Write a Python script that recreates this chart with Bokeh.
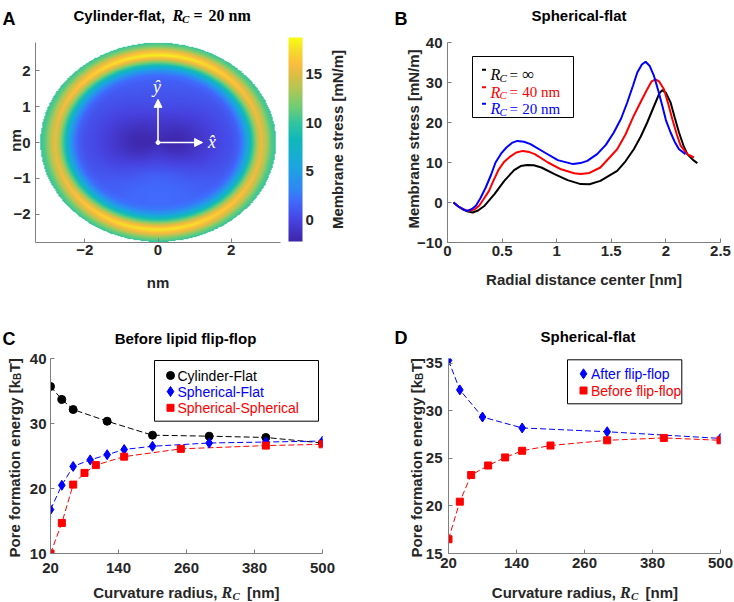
import numpy as np
from bokeh.plotting import figure
from bokeh.layouts import column, row
from bokeh.models import (Label, BoxAnnotation, ColorBar, LinearColorMapper, FixedTicker,
                          Arrow, NormalHead, NumeralTickFormatter, Range1d)
from bokeh.embed import file_html
from bokeh.resources import INLINE

# ------------------------------------------------------------------ data
# Panel A: membrane stress (mN/m) read along the pore, vs normalised radius
rho_knots = [0.00, 0.10, 0.20, 0.35, 0.50, 0.62, 0.68, 0.72, 0.76, 0.80, 0.84, 0.875, 0.92, 0.96, 1.00]
stress_up = [-1.8, -1.4, -0.8, 0.3, 0.9, 1.4, 2.2, 4.0, 7.5, 11.5, 15.5, 18.3, 15.5, 12.0, 10.0]
stress_down = [-1.8, -1.0, 0.0, 1.5, 2.0, 2.0, 2.7, 4.5, 8.0, 11.5, 15.5, 18.0, 15.3, 12.0, 10.0]
stress_side = [-1.8, -2.0, -1.9, -1.0, 0.0, 0.6, 1.4, 3.0, 6.0, 10.0, 13.5, 15.5, 13.5, 11.0, 10.0]
pore_half_widths = [3.22, 2.77]          # nm (x, y)
stress_limits = [-2.24, 18.8]
cbar_ticks = [0, 5, 10, 15]
a_xticks = [-2, 0, 2]
a_yticks = [-2, -1, 0, 1, 2]
a_xlim = [-3.35, 3.35]
a_ylim = [-2.78, 2.78]

# Panel B: membrane stress vs radial distance
r_inf = [0.055, 0.10, 0.14, 0.18, 0.23, 0.28, 0.34, 0.43, 0.52, 0.61, 0.67, 0.73, 0.79, 0.86, 0.98,
         1.10, 1.22, 1.30, 1.40, 1.554, 1.63, 1.706, 1.77, 1.829, 1.905, 1.94, 1.967, 2.0, 2.043,
         2.08, 2.12, 2.16, 2.196, 2.25, 2.288]
s_inf = [0.0, -1.0, -1.7, -2.2, -2.5, -2.0, -0.8, 2.1, 5.4, 8.1, 9.1, 9.4, 9.3, 8.75, 7.1,
         5.6, 4.6, 4.55, 5.4, 7.9, 10.3, 13.3, 16.5, 20.0, 25.0, 27.3, 28.1, 27.4, 25.0,
         21.3, 17.5, 14.3, 12.1, 10.6, 9.85]
r_40 = [0.055, 0.10, 0.13, 0.17, 0.20, 0.25, 0.29, 0.33, 0.38, 0.42, 0.47, 0.52, 0.57, 0.63, 0.69,
        0.75, 0.80, 0.92, 1.04, 1.16, 1.22, 1.30, 1.40, 1.554, 1.63, 1.706, 1.77, 1.829, 1.87,
        1.905, 1.94, 1.982, 2.02, 2.059, 2.10, 2.135, 2.196, 2.257]
s_40 = [0.0, -1.0, -1.5, -1.9, -2.1, -1.7, -0.8, 0.8, 2.9, 5.4, 8.3, 10.2, 11.4, 12.5, 12.9,
        12.6, 12.1, 10.0, 8.3, 7.3, 7.1, 7.4, 8.75, 13.3, 17.0, 21.7, 25.2, 28.3, 30.3,
        30.8, 30.2, 28.3, 24.8, 20.8, 17.0, 14.2, 12.1, 11.25]
r_20 = [0.055, 0.10, 0.15, 0.18, 0.22, 0.26, 0.30, 0.35, 0.40, 0.44, 0.49, 0.54, 0.59, 0.64, 0.70,
        0.76, 0.89, 1.01, 1.15, 1.217, 1.28, 1.37, 1.45, 1.523, 1.59, 1.646, 1.70, 1.738, 1.78,
        1.814, 1.85, 1.89, 1.93, 1.967, 2.00, 2.043, 2.08, 2.12, 2.18]
s_20 = [0.0, -1.0, -1.8, -2.1, -1.7, -0.8, 1.0, 3.75, 7.0, 10.0, 12.2, 13.75, 14.9, 15.4, 15.2,
        14.6, 12.5, 10.6, 9.6, 9.85, 10.4, 12.1, 14.4, 17.5, 21.0, 25.0, 29.3, 32.5, 34.5,
        35.2, 34.2, 31.7, 28.0, 24.2, 20.6, 17.5, 15.2, 13.3, 12.1]
b_xticks = [0, 0.5, 1, 1.5, 2, 2.5]
b_yticks = [-10, 0, 10, 20, 30, 40]

# Panel C: pore formation energy before flip-flop
rc_cyl = [20, 40, 60, 120, 200, 300, 400, 500]
e_cyl = [35.7, 33.7, 32.15, 30.35, 28.2, 28.05, 27.85, 27.0]
rc_sf = [20, 40, 60, 90, 120, 150, 200, 300, 400, 500]
e_sf = [16.75, 20.5, 23.4, 24.4, 25.2, 26.0, 26.5, 27.0, 27.15, 27.3]
rc_ss = [20, 40, 60, 80, 100, 150, 250, 400, 500]
e_ss = [10.0, 14.7, 20.6, 22.4, 23.6, 24.9, 26.1, 26.6, 26.8]

# Panel D: spherical-flat before / after flip-flop
rc_after = [20, 40, 80, 150, 300, 500]
e_after = [35.3, 32.2, 29.35, 28.2, 27.8, 27.1]
rc_before = [20, 40, 60, 90, 120, 150, 200, 300, 400, 500]
e_before = [16.5, 20.45, 23.25, 24.25, 25.1, 25.8, 26.35, 26.9, 27.15, 26.9]
rc_ticks = [20, 140, 260, 380, 500]
c_yticks = [10, 20, 30, 40]
d_yticks = [15, 20, 25, 30, 35]

# ------------------------------------------------------------------ style
SANS = "Liberation Sans"
SERIF = "Liberation Serif"
TICK_C = "#262626"
AXIS_C = "#7f7f7f"
BLUE = "#0000ff"
RED = "#ff0000"
W, H = 734, 602

parula_anchor_t = [0.0, 0.10, 0.20, 0.25, 0.37, 0.50, 0.58, 0.66, 0.75, 0.82, 0.875, 0.94, 1.0]
parula_anchor_c = ["#3E26A8", "#4742E0", "#406BFD", "#3185F5", "#1CA6E0", "#10B8BB", "#31C59E",
                   "#70CC75", "#B2C754", "#DEBD44", "#FCBD3D", "#F5DC29", "#F9FB14"]


def build_palette(n=256):
    rgb = np.array([[int(c[i:i + 2], 16) for i in (1, 3, 5)] for c in parula_anchor_c], float)
    out = []
    for v in np.linspace(0, 1, n):
        r, g, b = (np.interp(v, parula_anchor_t, rgb[:, k]) for k in range(3))
        out.append("#%02x%02x%02x" % (int(round(r)), int(round(g)), int(round(b))))
    return out


def make_panel(fig_box, frame_box, xr, yr):
    fx0, fy0, fx1, fy1 = fig_box
    L, T, R, B = frame_box
    p = figure(width=fx1 - fx0, height=fy1 - fy0,
               x_range=Range1d(*xr), y_range=Range1d(*yr),
               output_backend="svg", toolbar_location=None,
               min_border_left=L - fx0, min_border_right=fx1 - R,
               min_border_top=T - fy0, min_border_bottom=fy1 - B)
    p.outline_line_color = None
    p.xgrid.visible = False
    p.ygrid.visible = False
    p.background_fill_color = "white"
    p.border_fill_color = "white"
    return p


def style_axes(p, xticks, yticks, xstand, ystand):
    for ax in (p.xaxis[0], p.yaxis[0]):
        ax.axis_line_color = AXIS_C
        ax.axis_line_width = 1
        ax.major_tick_line_color = AXIS_C
        ax.minor_tick_line_color = None
        ax.major_tick_in = 4
        ax.major_tick_out = 0
        ax.major_label_text_font = SANS
        ax.major_label_text_font_size = "15px"
        ax.major_label_text_font_style = "bold"
        ax.major_label_text_color = TICK_C
    p.xaxis[0].ticker = FixedTicker(ticks=xticks)
    p.yaxis[0].ticker = FixedTicker(ticks=yticks)
    p.xaxis[0].major_label_standoff = xstand
    p.yaxis[0].major_label_standoff = ystand


# transparent overlay over the whole page: carries every text outside the plot frames
pT = figure(width=W, height=H, x_range=Range1d(0, W), y_range=Range1d(H, 0),
            output_backend="svg", toolbar_location=None,
            x_axis_location=None, y_axis_location=None,
            min_border_left=0, min_border_right=0, min_border_top=0, min_border_bottom=0)
pT.outline_line_color = None
pT.xgrid.visible = False
pT.ygrid.visible = False
pT.background_fill_alpha = 0
pT.border_fill_alpha = 0
pT.styles = {"position": "absolute", "left": "0px", "top": "0px"}


def txt(ix, iy, text, size, color=TICK_C, font=SANS, style="bold",
        align="left", baseline="alphabetic", angle=0.0):
    pT.add_layout(Label(x=ix, y=iy, text=text, text_font=font, text_font_size=f"{size}px",
                        text_font_style=style, text_color=color, text_align=align,
                        text_baseline=baseline, angle=angle))


def box(l, t, r, b):
    pT.add_layout(BoxAnnotation(left=l, right=r, top=t, bottom=b, fill_alpha=0,
                                line_color="black", line_width=1, line_alpha=1.0))


ROT = np.pi / 2

# ------------------------------------------------------------------ panel A
pA = make_panel((0, 0, 367, 300), (35, 38, 280, 242), a_xlim, a_ylim)
style_axes(pA, a_xticks, a_yticks, 2, 5)

ha, hb = pore_half_widths
xs = np.linspace(-ha, ha, 600)
ys = np.linspace(-hb, hb, 520)
X, Y = np.meshgrid(xs, ys)
U, V = X / ha, Y / hb
rho = np.hypot(U, V)
w_vert = V ** 2 / np.maximum(rho ** 2, 1e-12)
vert = np.where(V >= 0, np.interp(rho, rho_knots, stress_up), np.interp(rho, rho_knots, stress_down))
side = np.interp(rho, rho_knots, stress_side)
Z = w_vert * vert + (1 - w_vert) * side
Z[rho > 1.0] = np.nan

cmap = LinearColorMapper(palette=build_palette(), low=stress_limits[0], high=stress_limits[1],
                         nan_color=(0, 0, 0, 0.0))
pA.image(image=[Z], x=-ha, y=-hb, dw=2 * ha, dh=2 * hb, color_mapper=cmap)

head = dict(size=8, fill_color="white", line_color="white", line_width=1)
pA.add_layout(Arrow(end=NormalHead(**head), x_start=0, y_start=0, x_end=1.22, y_end=0,
                    line_color="white", line_width=1.6))
pA.add_layout(Arrow(end=NormalHead(**head), x_start=0, y_start=0, x_end=0, y_end=1.2,
                    line_color="white", line_width=1.6))
pA.scatter([0], [0], size=4, color="white")

cb = ColorBar(color_mapper=cmap, ticker=FixedTicker(ticks=cbar_ticks), location=(253, 1),
              orientation="vertical", width=14, height=204, padding=0, margin=0,
              label_standoff=3, major_tick_line_color=None, minor_tick_line_color=None,
              bar_line_color=None, border_line_color=None, background_fill_alpha=0,
              major_label_text_font=SANS, major_label_text_font_size="15px",
              major_label_text_font_style="bold", major_label_text_color=TICK_C)
pA.add_layout(cb)

txt(211.5, 141, "x\u0302", 18, color="white", font=SERIF, style="italic",
    align="center", baseline="middle")
txt(156.5, 86, "y\u0302", 18, color="white", font=SERIF, style="italic",
    align="center", baseline="middle")
txt(2, 18.5, "A", 18, color="black")
txt(73, 15, "Cylinder-flat,", 15, color="black")
txt(172, 15, "R", 16, color="black", font=SERIF, style="bold italic")
txt(181.5, 18, "C", 11, color="black", font=SERIF, style="bold italic")
txt(193, 15, "=", 16, color="black", font=SERIF, style="bold")
txt(208, 15, "20 nm", 16, color="black", font=SERIF, style="bold")
txt(157.5, 282, "nm", 15, align="center")
txt(15, 140, "nm", 15, align="center", angle=ROT)
txt(337, 139, "Membrane stress [mN/m]", 15, align="center", angle=ROT)

# ------------------------------------------------------------------ panel B
pB = make_panel((367, 0, 734, 300), (447, 42, 720, 242), (0, 2.5), (-10, 40))
style_axes(pB, b_xticks, b_yticks, 3, 5)
pB.xaxis[0].formatter = NumeralTickFormatter(format="0.[0]")
pB.line(r_inf, s_inf, line_color="black", line_width=2)
pB.line(r_40, s_40, line_color=RED, line_width=2)
pB.line(r_20, s_20, line_color=BLUE, line_width=2)

box(472, 56, 573, 117)
leg_b = [("\u221e", "black", 74.3), ("40 nm", RED, 91.7), ("20 nm", BLUE, 108.3)]
for val, col, base in leg_b:
    pT.segment(x0=[481.5], y0=[base - 5], x1=[485.5], y1=[base - 5], line_color=col, line_width=2)
    txt(490, base, "R", 16, color=col, font=SERIF, style="italic")
    txt(499, base + 3, "C", 11, color=col, font=SERIF, style="italic")
    txt(509, base, "=", 15, color=col, font=SERIF, style="normal")
    txt(521.7, base, val, 17 if val == "\u221e" else 15, color=col, font=SERIF, style="normal")

txt(394, 18.5, "B", 18, color="black")
txt(578.5, 15, "Spherical-flat", 15, color="black", align="center")
txt(583.5, 279, "Radial distance center [nm]", 15, align="center")
txt(413, 138.5, "Membrane stress [mN/m]", 15, align="center", angle=ROT)

# ------------------------------------------------------------------ panel C
pC = make_panel((0, 300, 367, 602), (50, 358, 322, 553), (20, 500), (10, 40))
style_axes(pC, rc_ticks, c_yticks, 9, 4)
DASH = "6 3"
pC.line(rc_cyl, e_cyl, line_color="black", line_dash=DASH, line_width=1)
pC.line(rc_sf, e_sf, line_color=BLUE, line_dash=DASH, line_width=1)
pC.line(rc_ss, e_ss, line_color=RED, line_dash=DASH, line_width=1)
pC.scatter(rc_cyl, e_cyl, marker="circle", size=8, color="black")
pC.scatter(rc_sf, e_sf, marker="diamond", size=10, color=BLUE)
pC.scatter(rc_ss, e_ss, marker="square", size=7, color=RED)

box(154, 360, 318, 420.7)
leg_c = [("Cylinder-Flat", "black", "circle", 8, 375),
         ("Spherical-Flat", BLUE, "diamond", 10, 391),
         ("Spherical-Spherical", RED, "square", 7, 407.3)]
for name, col, mk, sz, yy in leg_c:
    pT.scatter([170], [yy], marker=mk, size=sz, color=col)
    txt(177, yy, name, 14, color=col, style="normal", baseline="middle")

XLB = 592
txt(2, 338.5, "C", 18, color="black")
txt(185, 337.5, "Before lipid flip-flop", 15, color="black", align="center")
txt(92.7, XLB, "Curvature radius,", 15)
txt(221, XLB, "R", 16, font=SERIF, style="bold italic")
txt(232, XLB + 3, "C", 11, font=SERIF, style="bold italic")
txt(246.5, XLB, "[nm]", 15)
txt(14, 557, "Pore formation energy [k", 15, angle=ROT)
txt(17, 379.5, "B", 10, angle=ROT)
txt(14, 371.8, "T]", 15, angle=ROT)

# ------------------------------------------------------------------ panel D
pD = make_panel((367, 300, 734, 602), (448, 354, 720, 553), (20, 500), (15, 35.5))
style_axes(pD, rc_ticks, d_yticks, 4, 6)
pD.line(rc_after, e_after, line_color=BLUE, line_dash=DASH, line_width=1)
pD.line(rc_before, e_before, line_color=RED, line_dash=DASH, line_width=1)
pD.scatter(rc_after, e_after, marker="diamond", size=10, color=BLUE)
pD.scatter(rc_before, e_before, marker="square", size=7, color=RED)

box(567, 359.3, 681.3, 403.3)
leg_d = [("After flip-flop", BLUE, "diamond", 10, 373.3),
         ("Before flip-flop", RED, "square", 7, 390)]
for name, col, mk, sz, yy in leg_d:
    pT.scatter([583], [yy], marker=mk, size=sz, color=col)
    txt(590.5, yy, name, 14, color=col, style="normal", baseline="middle")

txt(394, 337, "D", 18, color="black")
txt(587.5, 336, "Spherical-flat", 15, color="black", align="center")
txt(491.3, XLB, "Curvature radius,", 15)
txt(619.5, XLB, "R", 16, font=SERIF, style="bold italic")
txt(630.5, XLB + 3, "C", 11, font=SERIF, style="bold italic")
txt(645, XLB, "[nm]", 15)
txt(416, 557, "Pore formation energy [k", 15, angle=ROT)
txt(419, 379.5, "B", 10, angle=ROT)
txt(416, 371.8, "T]", 15, angle=ROT)

layout = column(row(pA, pB), row(pC, pD), pT)
open("out.html", "w").write(file_html(layout, INLINE))
